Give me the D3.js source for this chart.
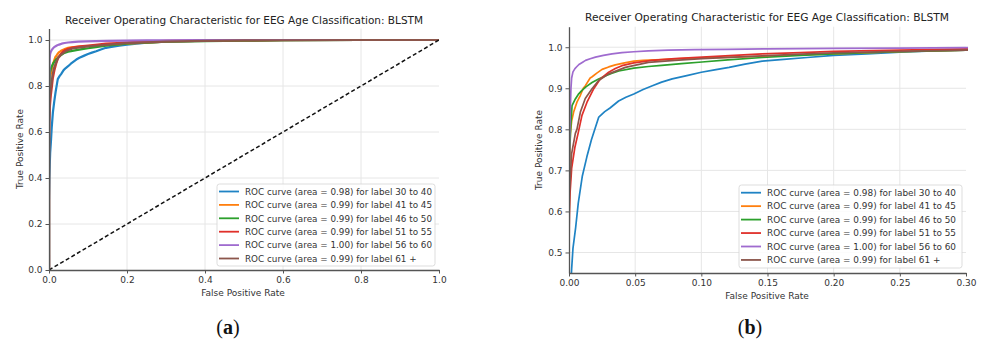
<!DOCTYPE html>
<html>
<head>
<meta charset="utf-8">
<script src="https://cdn.jsdelivr.net/npm/d3@7"></script>
<style>
  body { margin: 0; background: #fff; }
  svg { display: block; font-family: 'DejaVu Sans', sans-serif; }
</style>
</head>
<body>
<div id="chart"></div>
<script>
// ROC points [fpr, tpr], one array per age label
const roc3040 = [[0,0],[0,0.30],[0.001,0.40],[0.002,0.46],[0.003,0.51],[0.005,0.56],[0.007,0.62],[0.01,0.685],[0.0135,0.733],[0.017,0.775],[0.020,0.805],[0.0225,0.830],[0.027,0.843],[0.031,0.852],[0.0375,0.869],[0.043,0.878],[0.049,0.886],[0.056,0.897],[0.063,0.906],[0.070,0.915],[0.078,0.923],[0.089,0.931],[0.100,0.939],[0.110,0.945],[0.121,0.951],[0.133,0.959],[0.146,0.966],[0.16,0.970],[0.18,0.975],[0.20,0.980],[0.225,0.984],[0.25,0.988],[0.275,0.991],[0.30,0.993],[0.35,0.995],[0.4,0.997],[0.5,0.998],[0.6,0.999],[0.8,1],[1,1]];
const roc4145 = [[0,0],[0,0.55],[0.0005,0.70],[0.001,0.79],[0.002,0.82],[0.0035,0.842],[0.006,0.866],[0.0086,0.883],[0.0108,0.90],[0.0125,0.907],[0.016,0.925],[0.0175,0.928],[0.021,0.937],[0.025,0.946],[0.030,0.952],[0.035,0.957],[0.042,0.962],[0.049,0.966],[0.056,0.968],[0.070,0.970],[0.085,0.972],[0.100,0.974],[0.125,0.976],[0.146,0.978],[0.175,0.981],[0.2,0.984],[0.25,0.989],[0.3,0.993],[0.35,0.995],[0.4,0.997],[0.5,0.998],[0.6,0.999],[0.8,1],[1,1]];
const roc4650 = [[0,0],[0,0.6],[0.0005,0.75],[0.0013,0.806],[0.0023,0.858],[0.0048,0.874],[0.007,0.885],[0.0098,0.895],[0.013,0.904],[0.0174,0.914],[0.022,0.922],[0.0274,0.930],[0.032,0.936],[0.0376,0.942],[0.049,0.949],[0.06,0.953],[0.070,0.956],[0.085,0.960],[0.1005,0.964],[0.12,0.969],[0.146,0.975],[0.175,0.980],[0.2,0.984],[0.225,0.987],[0.25,0.989],[0.3,0.993],[0.35,0.994],[0.4,0.995],[0.5,0.997],[0.6,0.999],[0.8,1],[1,1]];
const roc5155 = [[0,0],[0,0.5],[0.0003,0.60],[0.0008,0.645],[0.002,0.705],[0.0045,0.757],[0.007,0.792],[0.0098,0.834],[0.0136,0.866],[0.0187,0.899],[0.0237,0.923],[0.030,0.939],[0.035,0.948],[0.040,0.955],[0.049,0.962],[0.0627,0.968],[0.08,0.972],[0.1005,0.976],[0.125,0.980],[0.146,0.984],[0.175,0.987],[0.2,0.990],[0.25,0.993],[0.3,0.996],[0.4,0.998],[0.5,0.999],[0.6,1],[1,1]];
const roc5660 = [[0,0],[0,0.6],[0.0005,0.78],[0.001,0.85],[0.0015,0.90],[0.002,0.925],[0.003,0.94],[0.0045,0.948],[0.006,0.953],[0.0075,0.958],[0.01,0.963],[0.0125,0.968],[0.016,0.972],[0.02,0.976],[0.026,0.980],[0.0325,0.984],[0.04,0.987],[0.049,0.989],[0.06,0.991],[0.075,0.993],[0.095,0.994],[0.12,0.995],[0.15,0.996],[0.2,0.997],[0.25,0.998],[0.3,0.999],[0.4,1],[1,1]];
const roc61 = [[0,0],[0,0.5],[0.0003,0.644],[0.0008,0.668],[0.002,0.741],[0.0048,0.79],[0.006,0.80],[0.0086,0.842],[0.0123,0.875],[0.0174,0.899],[0.0224,0.919],[0.030,0.935],[0.0426,0.951],[0.060,0.963],[0.08,0.968],[0.1005,0.972],[0.125,0.976],[0.146,0.979],[0.175,0.983],[0.2,0.986],[0.25,0.990],[0.3,0.993],[0.4,0.996],[0.5,0.998],[0.6,0.999],[0.8,1],[1,1]];

const labels = ['30 to 40', '41 to 45', '46 to 50', '51 to 55', '56 to 60', '61 +'];
const areas = ['0.98', '0.99', '0.99', '0.99', '1.00', '0.99'];
const curves = [roc3040, roc4145, roc4650, roc5155, roc5660, roc61];
const colors = ['#1f83c4', '#ff7f0e', '#2ca02c', '#e0302a', '#9f6bcf', '#8c564b'];

const chanceLine = [[0, 0], [1, 1]];

const leftXTicks = [0, 0.2, 0.4, 0.6, 0.8, 1.0];
const leftYTicks = [0, 0.2, 0.4, 0.6, 0.8, 1.0];
const rightXTicks = [0, 0.05, 0.10, 0.15, 0.20, 0.25, 0.30];
const rightYTicks = [0.5, 0.6, 0.7, 0.8, 0.9, 1.0];

const titleText = 'Receiver Operating Characteristic for EEG Age Classification: BLSTM';

const width = 982;
const height = 340;

const svg = d3.select('#chart').append('svg')
    .attr('width', width)
    .attr('height', height)
    .attr('viewBox', [0, 0, width, height]);

const drawPanel = function(p) {
    const x = d3.scaleLinear().domain(p.xDomain).range([p.left, p.right]);
    const y = d3.scaleLinear().domain(p.yDomain).range([p.bottom, p.top]);
    const g = svg.append('g');

    // grid
    g.append('g')
        .attr('stroke', '#e6e6e6')
        .attr('stroke-width', 1)
        .call(gg => gg.selectAll('.vx').data(p.xTicks.slice(1, -1)).join('line')
            .attr('x1', d => x(d)).attr('x2', d => x(d))
            .attr('y1', p.top).attr('y2', p.bottom))
        .call(gg => gg.selectAll('.hy').data(p.yTicks.filter(d => d > p.yDomain[0])).join('line')
            .attr('x1', p.left).attr('x2', p.right)
            .attr('y1', d => y(d)).attr('y2', d => y(d)));

    const clipId = 'clip' + p.id;
    g.append('clipPath').attr('id', clipId)
        .append('rect')
        .attr('x', p.left).attr('y', p.top)
        .attr('width', p.right - p.left + 2).attr('height', p.bottom - p.top);

    const line = d3.line().x(d => x(d[0])).y(d => y(d[1]));
    const plot = g.append('g').attr('clip-path', `url(#${clipId})`);

    curves.forEach((c, i) => {
        plot.append('path')
            .datum(c)
            .attr('fill', 'none')
            .attr('stroke', colors[i])
            .attr('stroke-width', p.lw)
            .attr('stroke-linejoin', 'round')
            .attr('d', line);
    });

    if (p.chance) {
        plot.append('path')
            .datum(chanceLine)
            .attr('fill', 'none')
            .attr('stroke', '#111')
            .attr('stroke-width', 1.5)
            .attr('stroke-dasharray', '4,2.5')
            .attr('d', line);
    }

    // axes
    const xAxis = g.append('g')
        .attr('transform', `translate(0,${p.bottom})`)
        .call(d3.axisBottom(x).tickValues(p.xTicks).tickFormat(d3.format(p.xFmt)).tickSize(3.5).tickSizeOuter(0));
    const yAxis = g.append('g')
        .attr('transform', `translate(${p.left},0)`)
        .call(d3.axisLeft(y).tickValues(p.yTicks).tickFormat(d3.format('.1f')).tickSize(3.5).tickSizeOuter(0));
    [xAxis, yAxis].forEach(a => {
        a.attr('font-family', 'DejaVu Sans, sans-serif').attr('font-size', 9);
        a.selectAll('.domain').attr('stroke', '#555').attr('stroke-width', 1.3);
        a.selectAll('.tick line').attr('stroke', '#555');
        a.selectAll('.tick text').attr('fill', '#333');
    });

    // titles
    g.append('text')
        .attr('x', p.titleX).attr('y', p.titleY)
        .attr('text-anchor', 'middle')
        .attr('font-size', 11)
        .attr('fill', '#222')
        .attr('textLength', p.titleW)
        .attr('lengthAdjust', 'spacingAndGlyphs')
        .text(titleText);

    g.append('text')
        .attr('x', p.xLabelX).attr('y', p.xLabelY)
        .attr('text-anchor', 'middle')
        .attr('font-size', 9)
        .attr('fill', '#333')
        .text('False Positive Rate');

    g.append('text')
        .attr('transform', `translate(${p.yLabelX},${p.yLabelY}) rotate(-90)`)
        .attr('text-anchor', 'middle')
        .attr('font-size', 9)
        .attr('fill', '#333')
        .text('True Positive Rate');

    // legend
    const lg = g.append('g');
    lg.append('rect')
        .attr('x', p.legX).attr('y', p.legY)
        .attr('width', p.legW).attr('height', p.legH)
        .attr('rx', 2.5)
        .attr('fill', 'rgba(255,255,255,0.85)')
        .attr('stroke', '#d4d4d4')
        .attr('stroke-width', 0.8);

    const rows = lg.selectAll('.row').data(labels).join('g')
        .attr('transform', (d, i) => `translate(${p.legX},${p.legY + p.rowTop + i * p.rowStep})`);
    rows.append('line')
        .attr('x1', 2).attr('x2', 22)
        .attr('stroke', (d, i) => colors[i])
        .attr('stroke-width', 1.8);
    const texts = rows.append('text')
        .attr('x', 28)
        .attr('dy', '0.35em')
        .attr('font-size', 9.5)
        .attr('fill', '#333')
        .text((d, i) => `ROC curve (area = ${areas[i]}) for label ${d}`);
    const k = p.textW / texts.nodes()[0].getComputedTextLength();
    texts.each(function() {
        d3.select(this)
            .attr('textLength', this.getComputedTextLength() * k)
            .attr('lengthAdjust', 'spacingAndGlyphs');
    });
};

drawPanel({
    id: 'a', xDomain: [0, 1], yDomain: [0, 1.05],
    left: 49, right: 439, top: 28.5, bottom: 270,
    xTicks: leftXTicks, yTicks: leftYTicks, xFmt: '.1f',
    lw: 2.2, chance: true,
    titleX: 244, titleY: 23.5, titleW: 358,
    xLabelX: 243, xLabelY: 296, yLabelX: 23, yLabelY: 149,
    legX: 217, legY: 184, legW: 218, legH: 82, rowTop: 7.5, rowStep: 13.4, textW: 187
});

drawPanel({
    id: 'b', xDomain: [0, 0.3], yDomain: [0.45, 1.05],
    left: 569, right: 966, top: 26.7, bottom: 273,
    xTicks: rightXTicks, yTicks: rightYTicks, xFmt: '.2f',
    lw: 1.7, chance: false,
    titleX: 767, titleY: 20.5, titleW: 364,
    xLabelX: 767, xLabelY: 298.5, yLabelX: 542, yLabelY: 150,
    legX: 739, legY: 185, legW: 223, legH: 83, rowTop: 7.7, rowStep: 13.45, textW: 189
});

// sub-figure captions
[['a', 228], ['b', 750]].forEach(([letter, cx]) => {
    const t = svg.append('text')
        .attr('x', cx).attr('y', 334)
        .attr('text-anchor', 'middle')
        .attr('font-family', 'Liberation Serif, serif')
        .attr('font-size', 20)
        .attr('fill', '#111');
    t.append('tspan').text('(');
    t.append('tspan').attr('font-weight', 'bold').text(letter);
    t.append('tspan').text(')');
});
</script>
</body>
</html>
